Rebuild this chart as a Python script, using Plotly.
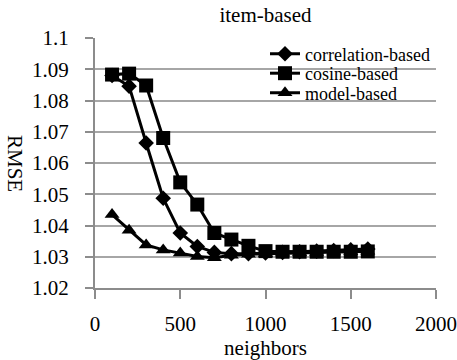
import plotly.graph_objects as go

neighbors = [100, 200, 300, 400, 500, 600, 700, 800, 900, 1000, 1100, 1200, 1300, 1400, 1500, 1600]
correlation_based = [1.088, 1.0846, 1.0664, 1.0487, 1.0376, 1.0333, 1.0314, 1.031, 1.031, 1.0312,
                     1.0314, 1.0316, 1.0318, 1.032, 1.0322, 1.0325]
cosine_based = [1.0883, 1.0886, 1.0848, 1.068, 1.0538, 1.0467, 1.0376, 1.0355, 1.0335, 1.0318,
                1.0316, 1.0316, 1.0316, 1.0316, 1.0316, 1.0317]
model_based = [1.0435, 1.0385, 1.0338, 1.0322, 1.0312, 1.0301, 1.0297, 1.0305, 1.0308, 1.031,
               1.0312, 1.0313, 1.0314, 1.0315, 1.0316, 1.0318]
x_ticks = [0, 500, 1000, 1500, 2000]
y_ticks = [1.02, 1.03, 1.04, 1.05, 1.06, 1.07, 1.08, 1.09, 1.1]
y_tick_labels = ["1.02", "1.03", "1.04", "1.05", "1.06", "1.07", "1.08", "1.09", "1.1"]

FONT = "Liberation Serif"
W, H = 457, 360
L, R, T, B = 95, 21, 38, 72
PW, PH = W - L - R, H - T - B
FS = 21


def py(pix):
    return (H - B - pix) / PH


def px(pix):
    return (pix - L) / PW


fig = go.Figure()
fig.add_trace(go.Scatter(x=neighbors, y=correlation_based, name="correlation-based",
                         mode="lines+markers", line=dict(color="black", width=3),
                         marker=dict(symbol="diamond", size=12, color="black"), legend="legend"))
fig.add_trace(go.Scatter(x=neighbors, y=cosine_based, name="cosine-based",
                         mode="lines+markers", line=dict(color="black", width=3),
                         marker=dict(symbol="square", size=14, color="black"), legend="legend2"))
fig.add_trace(go.Scatter(x=neighbors, y=model_based, name="model-based",
                         mode="lines+markers", line=dict(color="black", width=3),
                         marker=dict(symbol="triangle-up", size=13, color="black"), legend="legend3"))

leg_common = dict(xanchor="left", yanchor="middle", bgcolor="rgba(0,0,0,0)",
                  font=dict(family=FONT, size=18), borderwidth=0, x=px(265))

fig.update_layout(
    width=W, height=H,
    margin=dict(l=L, r=R, t=T, b=B, autoexpand=False),
    paper_bgcolor="white", plot_bgcolor="white",
    font=dict(family=FONT, size=FS, color="black"),
    title=dict(text="item-based", x=0.5, xanchor="center", xref="paper",
               y=1 - 15 / H, yanchor="middle", font=dict(family=FONT, size=FS)),
    showlegend=True,
    legend=dict(y=py(54), **leg_common),
    legend2=dict(y=py(73.5), **leg_common),
    legend3=dict(y=py(93), **leg_common),
    annotations=[dict(text="RMSE", textangle=90, xref="paper", yref="paper",
                      x=px(15), y=0.5, xanchor="center", yanchor="middle",
                      showarrow=False, font=dict(family=FONT, size=FS))],
)
fig.update_xaxes(range=[0, 2000], tickvals=x_ticks, showgrid=False, showline=True,
                 linecolor="#8c8c8c", linewidth=2, ticks="outside", ticklen=9,
                 tickcolor="#8c8c8c", tickwidth=2, zeroline=False, automargin=False,
                 ticklabelstandoff=7,
                 title=dict(text="neighbors", standoff=0, font=dict(family=FONT, size=FS)),
                 tickfont=dict(family=FONT, size=FS))
fig.update_yaxes(range=[1.02, 1.1], tickvals=y_ticks, ticktext=y_tick_labels, showgrid=True,
                 gridcolor="#a6a6a6", gridwidth=1.5, showline=True, linecolor="#8c8c8c",
                 linewidth=2, ticks="outside", ticklen=8, tickcolor="#8c8c8c", tickwidth=2,
                 ticklabelstandoff=12,
                 zeroline=False, automargin=False, tickfont=dict(family=FONT, size=FS))

fig.write_html("out.html", config={"displayModeBar": False},
               post_script="document.body.style.margin='0px';")
